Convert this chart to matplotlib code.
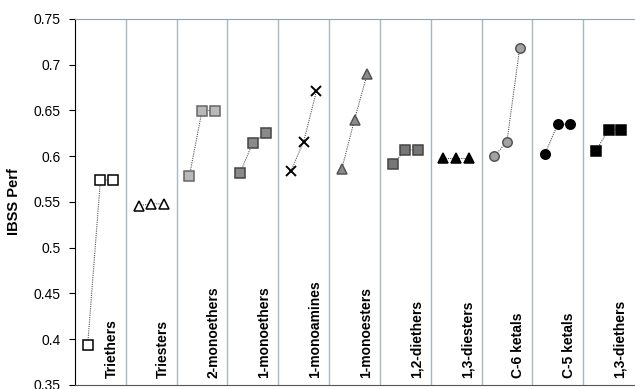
import matplotlib
matplotlib.use("Agg")
import matplotlib.pyplot as plt
from matplotlib.ticker import FuncFormatter, MultipleLocator

categories = ["Triethers", "Triesters", "2-monoethers", "1-monoethers", "1-monoamines",
              "1-monoesters", "1,2-diethers", "1,3-diesters", "C-6 ketals", "C-5 ketals",
              "1,3-diethers"]
point_1 = [0.394, 0.546, 0.578, 0.582, 0.584, 0.586, 0.591, 0.598, 0.600, 0.603, 0.606]
point_2 = [0.574, 0.548, 0.650, 0.615, 0.616, 0.640, 0.607, 0.598, 0.616, 0.635, 0.629]
point_3 = [0.574, 0.548, 0.650, 0.625, 0.671, 0.690, 0.607, 0.598, 0.718, 0.635, 0.629]

markers = ["s", "^", "s", "s", "x", "^", "s", "^", "o", "o", "s"]
faces = ["white", "white", "#b9b9b9", "#8a8a8a", "black", "#8c8c8c", "#767676", "black",
         "#a2a2a2", "black", "black"]
edges = ["black", "black", "#666666", "#444444", "black", "#555555", "#444444", "black",
         "#555555", "black", "black"]

plt.rcParams["font.family"] = ["Liberation Sans", "DejaVu Sans"]

fig = plt.figure(figsize=(6.35, 3.89), dpi=100)
ax = fig.add_axes([75 / 635, 4 / 389, (634 - 75) / 635, (385 - 19) / 389])

n = len(categories)
offsets = [0.25, 0.5, 0.75]
for i in range(n):
    xs = [i + o for o in offsets]
    ys = [point_1[i], point_2[i], point_3[i]]
    ax.plot(xs, ys, linestyle=(0, (1, 1)), color="#555555", linewidth=0.8, zorder=2)
    ms = 6.8 if markers[i] in ("s", "o") else 7.2
    ax.plot(xs, ys, linestyle="none", marker=markers[i], markersize=ms,
            markerfacecolor=faces[i], markeredgecolor=edges[i],
            markeredgewidth=1.1 if markers[i] != "x" else 1.4,
            color=edges[i], zorder=3)
    ax.text(i + 0.72, 0.358, categories[i], rotation=90, ha="center", va="bottom",
            fontsize=10, fontweight="bold", color="black")

for i in range(1, n):
    ax.axvline(i, color="#aab6be", linewidth=1.0, zorder=1)

ax.set_xlim(0, n)
ax.set_ylim(0.35, 0.75)
ax.yaxis.set_major_locator(MultipleLocator(0.05))
ax.yaxis.set_major_formatter(FuncFormatter(lambda v, p: f"{round(v, 2):g}"))
ax.set_xticks([])
ax.tick_params(axis="y", direction="out", length=4, labelsize=10, pad=6.5)
ax.set_ylabel("IBSS Perf", fontsize=10.5, fontweight="bold")
ax.yaxis.set_label_coords(-0.097, 0.5)

ax.spines["top"].set_color("#8fa3b0")
ax.spines["right"].set_visible(False)
ax.spines["left"].set_color("black")
ax.spines["bottom"].set_color("#555555")

fig.savefig("out.png", dpi=100)
